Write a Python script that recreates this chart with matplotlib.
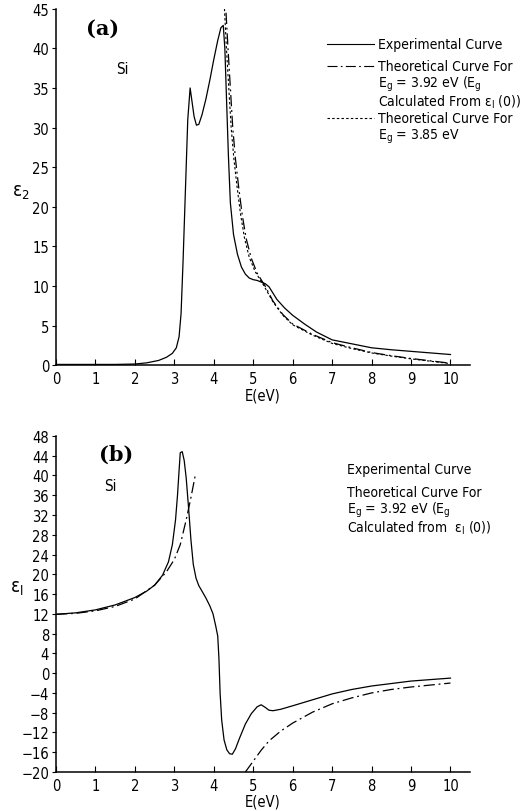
import matplotlib
matplotlib.use("Agg")
import matplotlib.pyplot as plt
from matplotlib.lines import Line2D
import numpy as np

plt.rcParams['font.family'] = ['DejaVu Sans']
plt.rcParams['font.stretch'] = 'condensed'
plt.rcParams['mathtext.default'] = 'regular'
plt.rcParams['font.size'] = 10

# (a) epsilon_2 -- experimental
e2_exp_x = [0, 0.5, 1, 1.5, 2, 2.3, 2.6, 2.8, 2.95, 3.05, 3.12, 3.17, 3.22, 3.28, 3.34, 3.4,
            3.45, 3.5, 3.56, 3.62, 3.7, 3.8, 3.9, 4.0, 4.1, 4.18, 4.24, 4.28, 4.32, 4.37, 4.42,
            4.5, 4.6, 4.7, 4.8, 4.9, 5.0, 5.1, 5.2, 5.3, 5.4, 5.5, 5.6, 5.8, 6.0, 6.3, 6.6,
            7.0, 7.5, 8.0, 8.5, 9.0, 9.5, 10.0]
e2_exp_y = [0.1, 0.1, 0.1, 0.1, 0.15, 0.3, 0.6, 1.0, 1.5, 2.2, 3.6, 6.5, 13, 22, 31, 35,
            33.2, 31.4, 30.3, 30.4, 31.6, 33.6, 36, 38.6, 41, 42.6, 42.9, 40, 34, 26.5, 20.5,
            16.5, 14, 12.4, 11.5, 11.0, 10.8, 10.7, 10.5, 10.3, 9.9, 9.1, 8.3, 7.2, 6.3, 5.2, 4.2,
            3.2, 2.7, 2.2, 1.95, 1.75, 1.55, 1.35]

# (a) theoretical, Eg = 3.92 eV (dash-dot)
e2_t392_x = [4.31, 4.36, 4.42, 4.48, 4.55, 4.63, 4.72, 4.82, 4.95, 5.1, 5.3, 5.5, 5.75,
             6.0, 6.5, 7.0, 7.5, 8.0, 8.5, 9.0, 9.5, 10.0]
e2_t392_y = [44.5, 40, 35, 30, 26, 22.5, 19, 16, 13.5, 11.6, 10.0, 8.1, 6.4,
             5.2, 3.9, 2.85, 2.2, 1.6, 1.2, 0.85, 0.55, 0.25]

# (a) theoretical, Eg = 3.85 eV (dotted)
e2_t385_x = [4.27, 4.32, 4.38, 4.44, 4.51, 4.59, 4.68, 4.78, 4.9, 5.05, 5.25, 5.5, 5.75,
             6.0, 6.5, 7.0, 7.5, 8.0, 8.5, 9.0, 9.5, 10.0]
e2_t385_y = [45, 40, 35, 30, 26, 22.5, 19, 16, 13.6, 11.8, 10.2, 8.0, 6.3,
             5.1, 3.8, 2.75, 2.1, 1.55, 1.15, 0.8, 0.5, 0.2]

# (b) epsilon_1 -- experimental
e1_exp_x = [0, 0.5, 1.0, 1.5, 2.0, 2.3, 2.5, 2.7, 2.85, 2.95, 3.03, 3.08, 3.12, 3.15, 3.2,
            3.25, 3.3, 3.36, 3.42, 3.48, 3.55, 3.62, 3.7, 3.8, 3.9, 3.98, 4.05, 4.1, 4.13,
            4.16, 4.2, 4.26, 4.33, 4.4, 4.47, 4.55, 4.65, 4.8, 4.95, 5.1, 5.2, 5.3, 5.4, 5.5,
            5.7, 6.0, 6.5, 7.0, 7.5, 8.0, 8.5, 9.0, 9.5, 10.0]
e1_exp_y = [11.9, 12.2, 12.8, 13.8, 15.3, 16.6, 17.8, 19.8, 22.5, 26, 31, 36, 41, 44.6, 44.8,
            43, 39.5, 33.5, 27, 22, 19.2, 17.7, 16.6, 15.2, 13.6, 12, 9.5, 7.5, 3,
            -4, -9.5, -13.5, -15.5, -16.3, -16.4, -15.3, -13.2, -10.3, -8.2, -6.8, -6.4, -6.9, -7.5, -7.6,
            -7.3, -6.6, -5.4, -4.2, -3.3, -2.6, -2.1, -1.6, -1.3, -1.0]

# (b) theoretical, Eg = 3.92 eV (dash-dot), below and above the gap
e1_tlo_x = [0, 0.5, 1.0, 1.5, 2.0, 2.5, 2.8, 3.0, 3.15, 3.3, 3.42, 3.53]
e1_tlo_y = [11.9, 12.1, 12.6, 13.5, 15.0, 17.8, 20.5, 23, 26, 31, 35.5, 40]
e1_thi_x = [4.8, 5.0, 5.2, 5.4, 5.7, 6.0, 6.5, 7.0, 7.5, 8.0, 8.5, 9.0, 9.5, 10.0]
e1_thi_y = [-20, -17.8, -15.6, -13.7, -11.7, -10.1, -7.9, -6.2, -5.0, -4.0, -3.3, -2.8, -2.4, -2.0]

DASHDOT = (0, (9, 3, 1.5, 3))
DOTTED = (0, (2.2, 2))
LEG_FS = 10


def style_axes(ax, ymin, ymax, ystep):
    ax.spines['top'].set_visible(False)
    ax.spines['right'].set_visible(False)
    ax.set_xlim(0, 10.5)
    ax.set_ylim(ymin, ymax)
    ax.set_xticks(range(0, 11))
    ax.set_yticks(np.arange(ymin, ymax + 1, ystep))
    ax.tick_params(axis='x', direction='in', length=4, width=0.8, pad=4, labelsize=10.5)
    ax.tick_params(axis='y', direction='out', length=3, width=0.8, pad=2, labelsize=10.5)
    ax.set_xlabel('E(eV)', labelpad=1, fontsize=10.5)
    for s in ('left', 'bottom'):
        ax.spines[s].set_linewidth(1.1)


fig = plt.figure(figsize=(5.21, 8.12), dpi=100)

# ---- panel (a)
ax1 = fig.add_axes([0.1075, 0.549, 0.795, 0.439])
ax1.plot(e2_exp_x, e2_exp_y, color='black', lw=0.9)
ax1.plot(e2_t392_x, e2_t392_y, color='black', lw=0.9, linestyle=DASHDOT)
ax1.plot(e2_t385_x, e2_t385_y, color='black', lw=0.8, linestyle=DOTTED)
style_axes(ax1, 0, 45, 5)
ax1.set_ylabel(r'$\epsilon_2$', rotation=0, fontsize=13.5)
ax1.yaxis.set_label_coords(-0.085, 0.46)
ax1.text(0.072, 0.975, '(a)', transform=ax1.transAxes, fontsize=15,
         fontweight='bold', family='DejaVu Serif', fontstretch='normal', va='top')
ax1.text(0.145, 0.82, 'Si', transform=ax1.transAxes, fontsize=11)

leg_x0, leg_x1, leg_tx = 327 / 521, 374 / 521, 378 / 521
rows_a = [('Experimental Curve', '-'),
          ('Theoretical Curve For', DASHDOT),
          (r'E$_g$ = 3.92 eV (E$_g$', None),
          (r'Calculated From $\epsilon_{\rm l}$ (0))', None),
          ('Theoretical Curve For', DOTTED),
          (r'E$_g$ = 3.85 eV', None)]
row_y = [45, 67, 84, 102, 119, 137]
for (label, ls), yp in zip(rows_a, row_y):
    yf = 1 - yp / 812
    if ls is not None:
        fig.add_artist(Line2D([leg_x0, leg_x1], [yf, yf], color='black', lw=0.8,
                              linestyle=ls, transform=fig.transFigure))
    fig.text(leg_tx, yf, label, fontsize=LEG_FS, va='center', ha='left')

# ---- panel (b)
ax2 = fig.add_axes([0.1075, 0.048, 0.795, 0.414])
ax2.plot(e1_exp_x, e1_exp_y, color='black', lw=0.9)
ax2.plot(e1_tlo_x, e1_tlo_y, color='black', lw=0.9, linestyle=DASHDOT)
ax2.plot(e1_thi_x, e1_thi_y, color='black', lw=0.9, linestyle=DASHDOT)
style_axes(ax2, -20, 48, 4)
ax2.set_ylabel(r'$\epsilon_{\rm l}$', rotation=0, fontsize=13.5)
ax2.yaxis.set_label_coords(-0.095, 0.52)
ax2.text(0.105, 0.975, '(b)', transform=ax2.transAxes, fontsize=15,
         fontweight='bold', family='DejaVu Serif', fontstretch='normal', va='top')
ax2.text(0.115, 0.84, 'Si', transform=ax2.transAxes, fontsize=11)

rows_b = ['Experimental Curve', 'Theoretical Curve For',
          r'E$_g$ = 3.92 eV (E$_g$', r'Calculated from  $\epsilon_{\rm l}$ (0))']
row_yb = [470, 493, 510, 528]
for label, yp in zip(rows_b, row_yb):
    fig.text(347 / 521, 1 - yp / 812, label, fontsize=LEG_FS, va='center', ha='left')

fig.savefig('out.png', dpi=100)
